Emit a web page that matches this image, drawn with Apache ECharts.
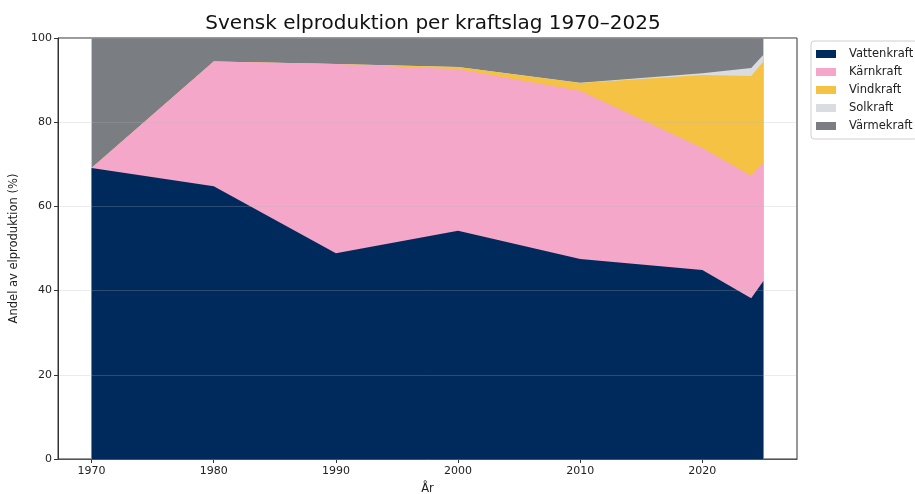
<!DOCTYPE html>
<html><head><meta charset="utf-8">
<script src="https://cdn.jsdelivr.net/npm/echarts@6/dist/echarts.min.js"></script>
<style>html,body{margin:0;padding:0;background:#fff}#c{width:915px;height:494px}</style>
</head><body><div id="c"></div>
<script>
const years = [1970, 1980, 1990, 2000, 2010, 2020, 2024, 2025];
const vattenkraft = [69.1, 64.8, 48.9, 54.2, 47.5, 44.9, 38.2, 42.3];
const karnkraft   = [0.0, 29.6, 44.9, 38.4, 40.0, 29.0, 29.1, 28.1];
const vindkraft   = [0.0, 0.0, 0.0, 0.5, 1.8, 17.3, 23.7, 24.0];
const solkraft    = [0.0, 0.0, 0.0, 0.0, 0.1, 0.4, 1.9, 1.6];
const varmekraft  = [30.9, 5.6, 6.2, 6.9, 10.6, 8.4, 7.1, 4.0];
const seriesNames = ['Vattenkraft', 'Kärnkraft', 'Vindkraft', 'Solkraft', 'Värmekraft'];
const xTicks = [1970, 1980, 1990, 2000, 2010, 2020];

const colors = ['#002a5c', '#f4a7c9', '#f5c243', '#d9dce1', '#7a7d82'];
const values = [vattenkraft, karnkraft, vindkraft, solkraft, varmekraft];
const font = 'DejaVu Sans';

// cumulative totals (stacking done here), drawn top-most layer first
const cum = [];
values.forEach((arr, i) => {
  cum.push(arr.map((v, j) => v + (i > 0 ? cum[i - 1][j] : 0)));
});
const series = [];
for (let i = values.length - 1; i >= 0; i--) {
  series.push({
    name: seriesNames[i], type: 'line',
    data: years.map((y, j) => [y, cum[i][j]]),
    showSymbol: false, symbol: 'none',
    lineStyle: {width: 0},
    itemStyle: {color: colors[i]},
    areaStyle: {color: colors[i], opacity: 1, origin: 'start'}
  });
}

const chart = echarts.init(document.getElementById('c'), null, {renderer: 'canvas'});
chart.setOption({
  animation: false,
  title: {
    text: 'Svensk elproduktion per kraftslag 1970–2025',
    left: 428, top: 9, textAlign: 'center',
    textStyle: {fontFamily: font, fontSize: 20, fontWeight: 'normal', color: '#111'}
  },
  legend: {
    orient: 'vertical', left: 811, top: 41,
    data: seriesNames, icon: 'rect', itemWidth: 20, itemHeight: 8, itemGap: 6,
    backgroundColor: '#fff', borderColor: '#cfcfcf', borderWidth: 1, borderRadius: 3,
    padding: [7, 4, 7, 5],
    textStyle: {fontFamily: font, fontSize: 11.5, color: '#222', padding: [0, 0, 0, 8]}
  },
  grid: {left: 58, right: 118, top: 38, bottom: 35, show: true, borderColor: '#333', borderWidth: 1,
         containLabel: false, outerBoundsMode: 'none'},
  xAxis: {
    type: 'value', min: 1967.25, max: 2027.75,
    name: 'År', nameLocation: 'middle', nameGap: 24,
    nameTextStyle: {fontFamily: font, fontSize: 11.5, color: '#222'},
    axisLine: {show: true, onZero: false, lineStyle: {color: '#333'}},
    axisTick: {show: true, length: 4, customValues: xTicks, lineStyle: {color: '#333'}},
    axisLabel: {customValues: xTicks, formatter: v => String(v), fontFamily: font, fontSize: 11, color: '#222', margin: 7},
    splitLine: {show: false}
  },
  yAxis: {
    type: 'value', min: 0, max: 100, interval: 20, z: 5,
    name: 'Andel av elproduktion (%)', nameLocation: 'middle', nameGap: 29,
    nameTextStyle: {fontFamily: font, fontSize: 11.5, color: '#222'},
    axisLine: {show: true, lineStyle: {color: '#333'}},
    axisTick: {show: true, length: 4, lineStyle: {color: '#333'}},
    axisLabel: {fontFamily: font, fontSize: 11, color: '#222', margin: 6},
    splitLine: {show: true, lineStyle: {color: 'rgba(180,180,180,0.25)', width: 1}}
  },
  series: series
});
</script></body></html>
